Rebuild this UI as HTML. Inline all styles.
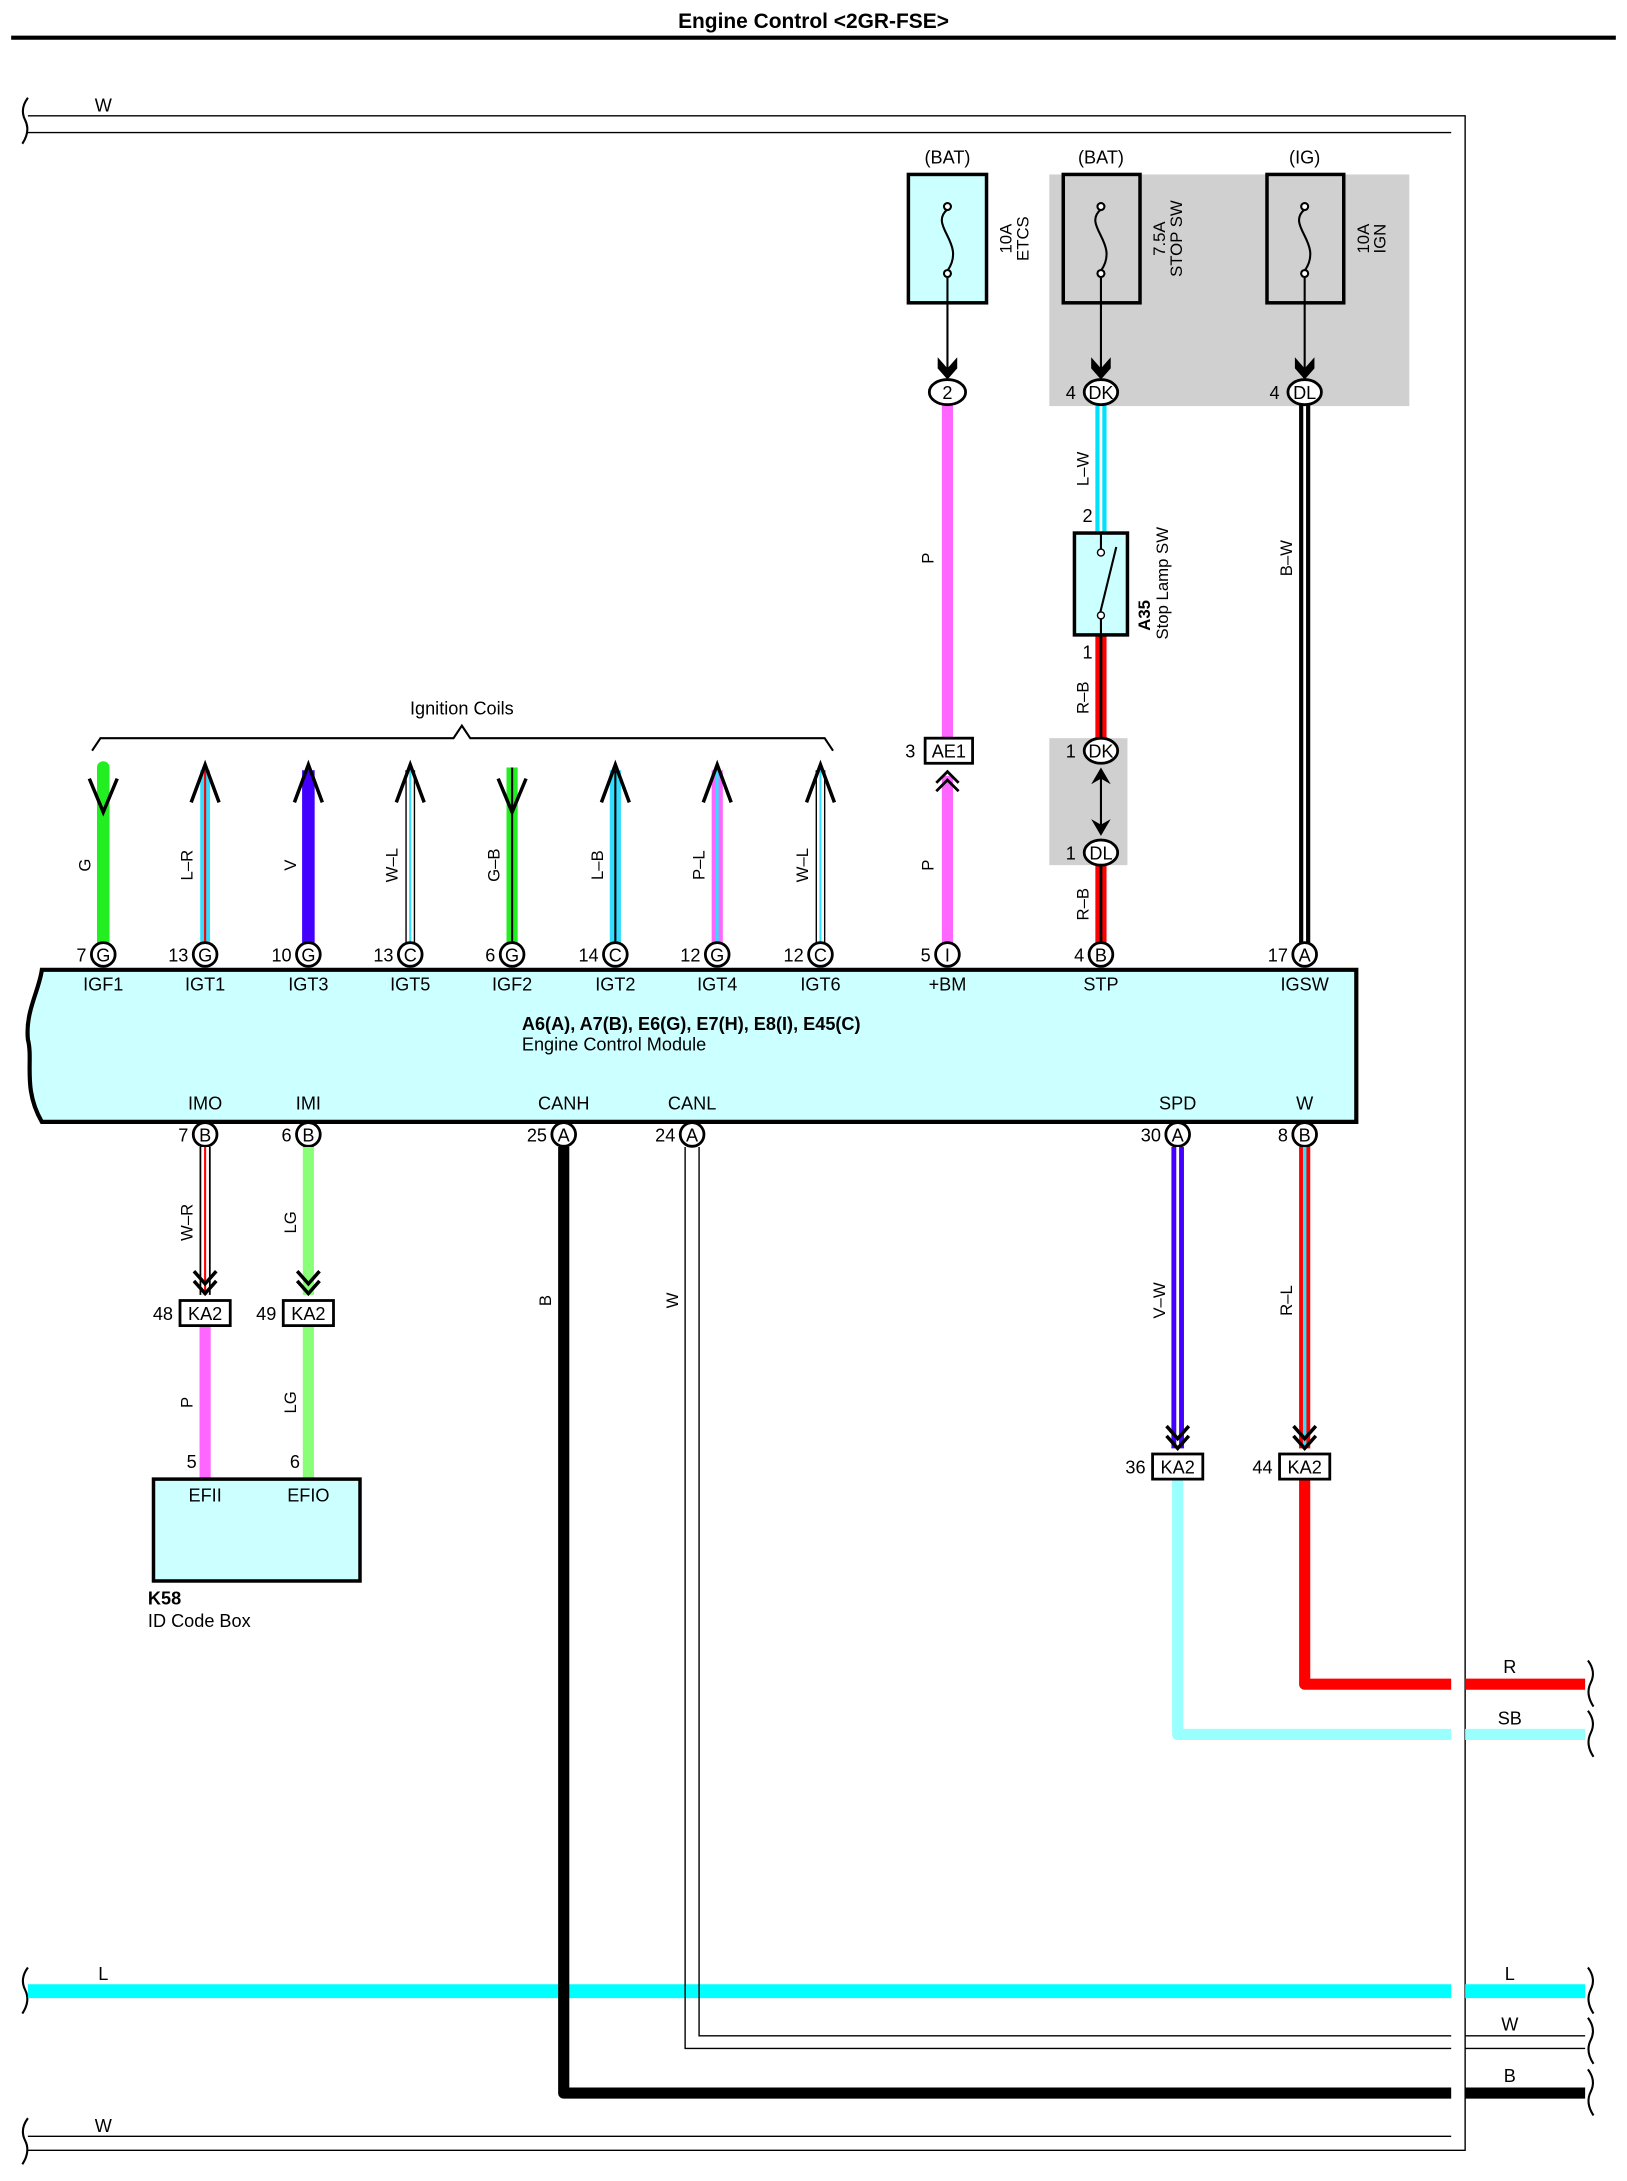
<!DOCTYPE html>
<html><head><meta charset="utf-8"><style>
html,body{margin:0;padding:0;background:#fff;}
svg{display:block;}
text{font-family:"Liberation Sans Narrow","Liberation Sans",sans-serif;font-size:13px;fill:#000;}
.c{text-anchor:middle;}
.r{text-anchor:end;}
.b{font-weight:bold;}
.sn{font-family:"Liberation Sans",sans-serif;font-size:12px;}
</style></head><body>
<svg width="1627" height="2181" viewBox="0 0 1166 1563" xmlns="http://www.w3.org/2000/svg">
<text x="583" y="20" class="c b" style="font-family:'Liberation Sans',sans-serif;font-size:15px">Engine Control &lt;2GR-FSE&gt;</text>
<line x1="8" y1="27" x2="1158" y2="27" stroke="#000" stroke-width="3"/>

<!-- outer W loops -->
<g fill="none" stroke="#000" stroke-width="1">
<path d="M20,83 H1050 V1541 H20"/>
<path d="M20,95 H1040"/>
<path d="M20,1531 H1040"/>
</g>
<g fill="none" stroke="#000" stroke-width="1.5">
<path d="M20,70 q-6,8 -2,16 q4,8 -2,17"/>
<path d="M20,1518 q-6,8 -2,16 q4,8 -2,17"/>
<path d="M20,1410 q-6,8 -2,16 q4,8 -2,17"/>
</g>
<text x="74" y="80" class="c">W</text>
<text x="74" y="1528" class="c">W</text>

<!-- gray areas -->
<rect x="752" y="125" width="258" height="166" fill="#d0d0d0"/>
<rect x="752" y="529" width="56" height="91" fill="#d0d0d0"/>

<!-- fuses -->
<text x="679" y="117" class="c">(BAT)</text>
<text x="789" y="117" class="c">(BAT)</text>
<text x="935" y="117" class="c">(IG)</text>
<rect x="651" y="125" width="56" height="92" fill="#ccffff" stroke="#000" stroke-width="2.5"/>
<rect x="762" y="125" width="55" height="92" fill="none" stroke="#000" stroke-width="2.5"/>
<rect x="908" y="125" width="55" height="92" fill="none" stroke="#000" stroke-width="2.5"/>
<g fill="none" stroke="#000" stroke-width="1.5">
<path d="M679,150 c-14,12 14,24 0,44"/><circle cx="679" cy="148" r="2.5" fill="#fff"/><circle cx="679" cy="196" r="2.5" fill="#fff"/>
<path d="M789,150 c-14,12 14,24 0,44"/><circle cx="789" cy="148" r="2.5" fill="#fff"/><circle cx="789" cy="196" r="2.5" fill="#fff"/>
<path d="M935,150 c-14,12 14,24 0,44"/><circle cx="935" cy="148" r="2.5" fill="#fff"/><circle cx="935" cy="196" r="2.5" fill="#fff"/>
<line x1="679" y1="199" x2="679" y2="268"/>
<line x1="789" y1="199" x2="789" y2="268"/>
<line x1="935" y1="199" x2="935" y2="268"/>
</g>
<g fill="#000">
<path d="M672,256 L679,264 L686,256 L686,264 L679,272 L672,264Z"/>
<path d="M782,256 L789,264 L796,256 L796,264 L789,272 L782,264Z"/>
<path d="M928,256 L935,264 L942,256 L942,264 L935,272 L928,264Z"/>
</g>
<g transform="translate(725,171) rotate(-90)"><text x="0" y="0" class="c sn">10A</text><text x="0" y="12" class="c sn">ETCS</text></g>
<g transform="translate(835,171) rotate(-90)"><text x="0" y="0" class="c sn">7.5A</text><text x="0" y="12" class="c sn">STOP SW</text></g>
<g transform="translate(981,171) rotate(-90)"><text x="0" y="0" class="c sn">10A</text><text x="0" y="12" class="c sn">IGN</text></g>

<!-- +BM pink -->
<line x1="679" y1="290" x2="679" y2="529" stroke="#ff66ff" stroke-width="8"/>
<line x1="679" y1="556" x2="679" y2="676" stroke="#ff66ff" stroke-width="8"/>
<path d="M671,561 L679,553 L687,561 M671,567 L679,559 L687,567" fill="none" stroke="#000" stroke-width="2"/>
<rect x="663" y="529" width="34" height="18" fill="#fff" stroke="#000" stroke-width="2"/>
<text x="680" y="543" class="c">AE1</text><text x="656" y="543" class="r">3</text>
<g transform="translate(669,400) rotate(-90)"><text class="c sn">P</text></g>
<g transform="translate(669,620) rotate(-90)"><text class="c sn">P</text></g>
<ellipse cx="679" cy="281" rx="13" ry="9" fill="#fff" stroke="#000" stroke-width="2"/><text x="679" y="286" class="c">2</text>

<!-- STP chain -->
<line x1="789" y1="290" x2="789" y2="382" stroke="#00e0ff" stroke-width="8"/>
<line x1="789" y1="290" x2="789" y2="382" stroke="#fff" stroke-width="2"/>
<line x1="789" y1="455" x2="789" y2="529" stroke="#ff0000" stroke-width="8"/>
<line x1="789" y1="455" x2="789" y2="529" stroke="#000" stroke-width="2"/>
<line x1="789" y1="620" x2="789" y2="676" stroke="#ff0000" stroke-width="8"/>
<line x1="789" y1="620" x2="789" y2="676" stroke="#000" stroke-width="2"/>
<rect x="770" y="382" width="38" height="73" fill="#ccffff" stroke="#000" stroke-width="2.5"/>
<line x1="789" y1="394" x2="789" y2="382" stroke="#000" stroke-width="1.5"/>
<line x1="789" y1="443" x2="789" y2="455" stroke="#000" stroke-width="1.5"/>
<line x1="788" y1="441" x2="800" y2="392" stroke="#000" stroke-width="1.5"/>
<circle cx="789" cy="396" r="2.5" fill="#fff" stroke="#000"/><circle cx="789" cy="441" r="2.5" fill="#fff" stroke="#000"/>
<text x="783" y="374" class="r">2</text><text x="783" y="472" class="r">1</text>
<g transform="translate(780,336) rotate(-90)"><text class="c sn">L–W</text></g>
<g transform="translate(780,500) rotate(-90)"><text class="c sn">R–B</text></g>
<g transform="translate(780,648) rotate(-90)"><text class="c sn">R–B</text></g>
<g transform="translate(824,418) rotate(-90)"><text class="c sn b" x="-23">A35</text><text x="0" y="13" class="c sn">Stop Lamp SW</text></g>
<ellipse cx="789" cy="281" rx="12" ry="9" fill="#fff" stroke="#000" stroke-width="2"/><text x="789" y="286" class="c">DK</text><text x="771" y="286" class="r">4</text>
<ellipse cx="789" cy="538" rx="12" ry="9" fill="#fff" stroke="#000" stroke-width="2"/><text x="789" y="543" class="c">DK</text><text x="771" y="543" class="r">1</text>
<ellipse cx="789" cy="611" rx="12" ry="9" fill="#fff" stroke="#000" stroke-width="2"/><text x="789" y="616" class="c">DL</text><text x="771" y="616" class="r">1</text>
<line x1="789" y1="552" x2="789" y2="597" stroke="#000" stroke-width="1.5"/>
<path d="M782,562 L789,550 L796,562 L789,558Z M782,587 L789,599 L796,587 L789,591Z" fill="#000"/>

<!-- IGSW -->
<line x1="935" y1="290" x2="935" y2="676" stroke="#000" stroke-width="8"/>
<line x1="935" y1="290" x2="935" y2="676" stroke="#fff" stroke-width="2"/>
<g transform="translate(926,400) rotate(-90)"><text class="c sn">B–W</text></g>
<ellipse cx="935" cy="281" rx="12" ry="9" fill="#fff" stroke="#000" stroke-width="2"/><text x="935" y="286" class="c">DL</text><text x="917" y="286" class="r">4</text>

<!-- Ignition coils -->
<text x="331" y="512" class="c">Ignition Coils</text>
<path d="M66,538 L72,529 H325 L331,520 L337,529 H591 L597,538" fill="none" stroke="#000" stroke-width="1.5"/>
<!-- IGF1 G -->
<line x1="74" y1="550" x2="74" y2="676" stroke="#22ee22" stroke-width="9" stroke-linecap="round"/>
<path d="M64,558 L74,582 L84,558" fill="none" stroke="#000" stroke-width="2.5"/>
<!-- IGT1 L-R -->
<line x1="147" y1="552" x2="147" y2="676" stroke="#33ddff" stroke-width="7"/><line x1="147" y1="552" x2="147" y2="676" stroke="#ff0000" stroke-width="1.5"/>
<path d="M137,575 L147,548 L157,575" fill="none" stroke="#000" stroke-width="2.5"/>
<!-- IGT3 V -->
<line x1="221" y1="552" x2="221" y2="676" stroke="#4400ff" stroke-width="9"/>
<path d="M211,575 L221,548 L231,575" fill="none" stroke="#000" stroke-width="2.5"/>
<!-- IGT5 W-L -->
<line x1="294" y1="552" x2="294" y2="676" stroke="#000" stroke-width="7"/><line x1="294" y1="552" x2="294" y2="676" stroke="#fff" stroke-width="5"/><line x1="294" y1="552" x2="294" y2="676" stroke="#33ddff" stroke-width="1.5"/>
<path d="M284,575 L294,548 L304,575" fill="none" stroke="#000" stroke-width="2.5"/>
<!-- IGF2 G-B -->
<line x1="367" y1="550" x2="367" y2="676" stroke="#22ee22" stroke-width="8"/><line x1="367" y1="550" x2="367" y2="676" stroke="#000" stroke-width="1.5"/>
<path d="M357,558 L367,582 L377,558" fill="none" stroke="#000" stroke-width="2.5"/>
<!-- IGT2 L-B -->
<line x1="441" y1="552" x2="441" y2="676" stroke="#33ddff" stroke-width="8"/><line x1="441" y1="552" x2="441" y2="676" stroke="#000" stroke-width="1.5"/>
<path d="M431,575 L441,548 L451,575" fill="none" stroke="#000" stroke-width="2.5"/>
<!-- IGT4 P-L -->
<line x1="514" y1="552" x2="514" y2="676" stroke="#ff66ff" stroke-width="8"/><line x1="514" y1="552" x2="514" y2="676" stroke="#33ddff" stroke-width="2"/>
<path d="M504,575 L514,548 L524,575" fill="none" stroke="#000" stroke-width="2.5"/>
<!-- IGT6 W-L -->
<line x1="588" y1="552" x2="588" y2="676" stroke="#000" stroke-width="7"/><line x1="588" y1="552" x2="588" y2="676" stroke="#fff" stroke-width="5"/><line x1="588" y1="552" x2="588" y2="676" stroke="#33ddff" stroke-width="1.5"/>
<path d="M578,575 L588,548 L598,575" fill="none" stroke="#000" stroke-width="2.5"/>
<g class="sn">
<g transform="translate(65,620) rotate(-90)"><text class="c sn">G</text></g>
<g transform="translate(138,620) rotate(-90)"><text class="c sn">L–R</text></g>
<g transform="translate(212,620) rotate(-90)"><text class="c sn">V</text></g>
<g transform="translate(285,620) rotate(-90)"><text class="c sn">W–L</text></g>
<g transform="translate(358,620) rotate(-90)"><text class="c sn">G–B</text></g>
<g transform="translate(432,620) rotate(-90)"><text class="c sn">L–B</text></g>
<g transform="translate(505,620) rotate(-90)"><text class="c sn">P–L</text></g>
<g transform="translate(579,620) rotate(-90)"><text class="c sn">W–L</text></g>
</g>

<!-- ECM -->
<path d="M30,695 H972 V804 H30 C16,780 24,760 20,745 C18,725 28,710 30,695Z" fill="#ccffff" stroke="#000" stroke-width="3"/>
<g fill="#fff" stroke="#000" stroke-width="2">
<circle cx="74" cy="684" r="8.5"/><circle cx="147" cy="684" r="8.5"/><circle cx="221" cy="684" r="8.5"/><circle cx="294" cy="684" r="8.5"/>
<circle cx="367" cy="684" r="8.5"/><circle cx="441" cy="684" r="8.5"/><circle cx="514" cy="684" r="8.5"/><circle cx="588" cy="684" r="8.5"/>
<circle cx="679" cy="684" r="8.5"/><circle cx="789" cy="684" r="8.5"/><circle cx="935" cy="684" r="8.5"/>
<circle cx="147" cy="813" r="8.5"/><circle cx="221" cy="813" r="8.5"/><circle cx="404" cy="813" r="8.5"/><circle cx="496" cy="813" r="8.5"/>
<circle cx="844" cy="813" r="8.5"/><circle cx="935" cy="813" r="8.5"/>
</g>
<g>
<text x="74" y="689" class="c">G</text><text x="62" y="689" class="r">7</text>
<text x="147" y="689" class="c">G</text><text x="135" y="689" class="r">13</text>
<text x="221" y="689" class="c">G</text><text x="209" y="689" class="r">10</text>
<text x="294" y="689" class="c">C</text><text x="282" y="689" class="r">13</text>
<text x="367" y="689" class="c">G</text><text x="355" y="689" class="r">6</text>
<text x="441" y="689" class="c">C</text><text x="429" y="689" class="r">14</text>
<text x="514" y="689" class="c">G</text><text x="502" y="689" class="r">12</text>
<text x="588" y="689" class="c">C</text><text x="576" y="689" class="r">12</text>
<text x="679" y="689" class="c">I</text><text x="667" y="689" class="r">5</text>
<text x="789" y="689" class="c">B</text><text x="777" y="689" class="r">4</text>
<text x="935" y="689" class="c">A</text><text x="923" y="689" class="r">17</text>
<text x="147" y="818" class="c">B</text><text x="135" y="818" class="r">7</text>
<text x="221" y="818" class="c">B</text><text x="209" y="818" class="r">6</text>
<text x="404" y="818" class="c">A</text><text x="392" y="818" class="r">25</text>
<text x="496" y="818" class="c">A</text><text x="484" y="818" class="r">24</text>
<text x="844" y="818" class="c">A</text><text x="832" y="818" class="r">30</text>
<text x="935" y="818" class="c">B</text><text x="923" y="818" class="r">8</text>
</g>
<g>
<text x="74" y="710" class="c">IGF1</text><text x="147" y="710" class="c">IGT1</text><text x="221" y="710" class="c">IGT3</text><text x="294" y="710" class="c">IGT5</text>
<text x="367" y="710" class="c">IGF2</text><text x="441" y="710" class="c">IGT2</text><text x="514" y="710" class="c">IGT4</text><text x="588" y="710" class="c">IGT6</text>
<text x="679" y="710" class="c">+BM</text><text x="789" y="710" class="c">STP</text><text x="935" y="710" class="c">IGSW</text>
<text x="374" y="738" class="b">A6(A), A7(B), E6(G), E7(H), E8(I), E45(C)</text>
<text x="374" y="753">Engine Control Module</text>
<text x="147" y="795" class="c">IMO</text><text x="221" y="795" class="c">IMI</text><text x="404" y="795" class="c">CANH</text><text x="496" y="795" class="c">CANL</text>
<text x="844" y="795" class="c">SPD</text><text x="935" y="795" class="c">W</text>
</g>

<!-- IMO / IMI -->
<line x1="147" y1="822" x2="147" y2="928" stroke="#000" stroke-width="8"/><line x1="147" y1="822" x2="147" y2="928" stroke="#fff" stroke-width="5.5"/><line x1="147" y1="822" x2="147" y2="928" stroke="#ff0000" stroke-width="1.5"/>
<line x1="221" y1="822" x2="221" y2="928" stroke="#88ff77" stroke-width="8"/>
<path d="M139,911 L147,920 L155,911 M139,918 L147,927 L155,918 M213,911 L221,920 L229,911 M213,918 L221,927 L229,918" fill="none" stroke="#000" stroke-width="2.5"/>
<line x1="147" y1="950" x2="147" y2="1060" stroke="#ff66ff" stroke-width="8"/>
<line x1="221" y1="950" x2="221" y2="1060" stroke="#88ff77" stroke-width="8"/>
<rect x="129" y="932" width="36" height="18" fill="#fff" stroke="#000" stroke-width="2"/><text x="147" y="946" class="c">KA2</text><text x="124" y="946" class="r">48</text>
<rect x="203" y="932" width="36" height="18" fill="#fff" stroke="#000" stroke-width="2"/><text x="221" y="946" class="c">KA2</text><text x="198" y="946" class="r">49</text>
<g transform="translate(138,876) rotate(-90)"><text class="c sn">W–R</text></g>
<g transform="translate(212,876) rotate(-90)"><text class="c sn">LG</text></g>
<g transform="translate(138,1005) rotate(-90)"><text class="c sn">P</text></g>
<g transform="translate(212,1005) rotate(-90)"><text class="c sn">LG</text></g>
<text x="141" y="1052" class="r">5</text><text x="215" y="1052" class="r">6</text>
<rect x="110" y="1060" width="148" height="73" fill="#ccffff" stroke="#000" stroke-width="2.5"/>
<text x="147" y="1076" class="c">EFII</text><text x="221" y="1076" class="c">EFIO</text>
<text x="106" y="1150" class="b">K58</text><text x="106" y="1166">ID Code Box</text>

<!-- L bar -->
<line x1="20" y1="1427" x2="1040" y2="1427" stroke="#00ffff" stroke-width="10"/>
<line x1="1050" y1="1427" x2="1136" y2="1427" stroke="#00ffff" stroke-width="10"/>

<!-- CANH / CANL -->
<path d="M404,822 V1500 H1040" fill="none" stroke="#000" stroke-width="8" stroke-linejoin="round"/>
<line x1="1050" y1="1500" x2="1136" y2="1500" stroke="#000" stroke-width="8"/>
<path d="M491,822 V1468 H1040 M501,822 V1459 H1040" fill="none" stroke="#000" stroke-width="1"/>
<path d="M1050,1468 H1136 M1050,1459 H1136" fill="none" stroke="#000" stroke-width="1"/>
<g transform="translate(395,932) rotate(-90)"><text class="c sn">B</text></g>
<g transform="translate(486,932) rotate(-90)"><text class="c sn">W</text></g>

<!-- SPD / W -->
<line x1="844" y1="822" x2="844" y2="1038" stroke="#4400ff" stroke-width="9"/><line x1="844" y1="822" x2="844" y2="1038" stroke="#fff" stroke-width="2"/>
<line x1="935" y1="822" x2="935" y2="1038" stroke="#ff0000" stroke-width="8"/><line x1="935" y1="822" x2="935" y2="1038" stroke="#33ddff" stroke-width="2.5"/>
<path d="M836,1022 L844,1031 L852,1022 M836,1029 L844,1038 L852,1029 M927,1022 L935,1031 L943,1022 M927,1029 L935,1038 L943,1029" fill="none" stroke="#000" stroke-width="2.5"/>
<path d="M844,1060 V1243 H1040" fill="none" stroke="#99ffff" stroke-width="8" stroke-linejoin="round"/>
<line x1="1050" y1="1243" x2="1136" y2="1243" stroke="#99ffff" stroke-width="8"/>
<path d="M935,1060 V1207 H1040" fill="none" stroke="#ff0000" stroke-width="8" stroke-linejoin="round"/>
<line x1="1050" y1="1207" x2="1136" y2="1207" stroke="#ff0000" stroke-width="8"/>
<rect x="826" y="1042" width="36" height="18" fill="#fff" stroke="#000" stroke-width="2"/><text x="844" y="1056" class="c">KA2</text><text x="821" y="1056" class="r">36</text>
<rect x="917" y="1042" width="36" height="18" fill="#fff" stroke="#000" stroke-width="2"/><text x="935" y="1056" class="c">KA2</text><text x="912" y="1056" class="r">44</text>
<g transform="translate(835,932) rotate(-90)"><text class="c sn">V–W</text></g>
<g transform="translate(926,932) rotate(-90)"><text class="c sn">R–L</text></g>

<!-- right brackets & labels -->
<g fill="none" stroke="#000" stroke-width="1.5">
<path d="M1138,1190 q6,8 2,16 q-4,8 2,17"/>
<path d="M1138,1226 q6,8 2,16 q-4,8 2,17"/>
<path d="M1138,1410 q6,8 2,16 q-4,8 2,17"/>
<path d="M1138,1446 q6,8 2,16 q-4,8 2,17"/>
<path d="M1138,1483 q6,8 2,16 q-4,8 2,17"/>
</g>
<text x="1082" y="1199" class="c">R</text>
<text x="1082" y="1236" class="c">SB</text>
<text x="74" y="1419" class="c">L</text>
<text x="1082" y="1419" class="c">L</text>
<text x="1082" y="1455" class="c">W</text>
<text x="1082" y="1492" class="c">B</text>
</svg>
</body></html>
